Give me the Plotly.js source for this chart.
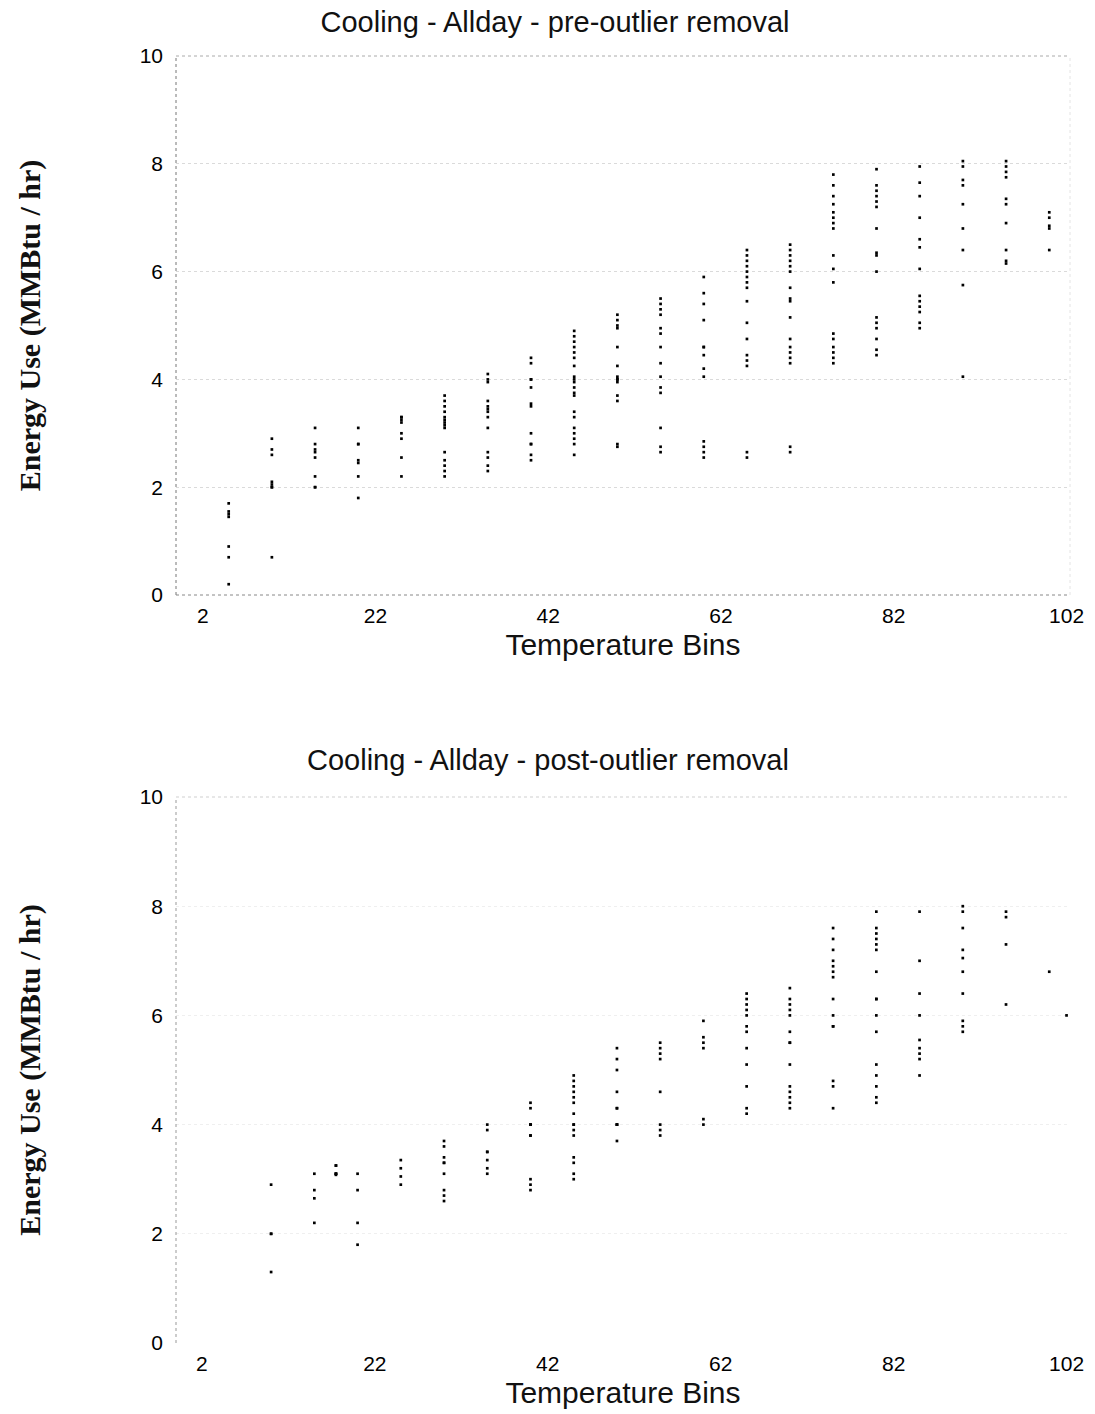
<!DOCTYPE html>
<html>
<head>
<meta charset="utf-8">
<script src="https://cdn.plot.ly/plotly-3.0.1.min.js"></script>
<style>html,body{margin:0;padding:0;background:#fff;}#chart{width:1095px;height:1414px;}</style>
</head>
<body>
<div id="chart"></div>
<script>
// ---------- DATA ----------
var tickLabels = [2, 22, 42, 62, 82, 102];
var yTicks = [0, 2, 4, 6, 8, 10];

// pre-outlier removal: temperature bins and energy values per bin
var preBins = [5, 10, 15, 20, 25, 30, 35, 40, 45, 50, 55, 60, 65, 70, 75, 80, 85, 90, 95, 100];
var preValues = [
  [1.7, 1.55, 1.5, 1.45, 0.9, 0.7, 0.2],
  [2.9, 2.7, 2.6, 2.1, 2.05, 2.0, 2.0, 0.7],
  [3.1, 2.8, 2.7, 2.65, 2.55, 2.2, 2.0, 2.0],
  [3.1, 2.8, 2.8, 2.5, 2.45, 2.2, 1.8],
  [3.3, 3.3, 3.25, 3.2, 3.0, 2.9, 2.55, 2.2],
  [3.7, 3.6, 3.5, 3.4, 3.3, 3.25, 3.2, 3.15, 3.1, 2.65, 2.5, 2.4, 2.3, 2.2],
  [4.1, 4.0, 3.95, 3.6, 3.5, 3.45, 3.4, 3.3, 3.1, 2.65, 2.55, 2.4, 2.3],
  [4.4, 4.3, 4.0, 4.0, 3.85, 3.55, 3.5, 3.0, 2.8, 2.8, 2.6, 2.5],
  [4.9, 4.8, 4.7, 4.6, 4.5, 4.4, 4.25, 4.05, 4.0, 3.95, 3.85, 3.75, 3.7, 3.4, 3.3, 3.1, 3.0, 2.9, 2.8, 2.6],
  [5.2, 5.1, 5.0, 4.95, 4.6, 4.25, 4.05, 4.0, 4.0, 3.95, 3.7, 3.6, 2.8, 2.75],
  [5.5, 5.4, 5.3, 5.2, 4.95, 4.85, 4.6, 4.3, 4.05, 3.85, 3.75, 3.1, 2.75, 2.65],
  [5.9, 5.6, 5.4, 5.1, 4.6, 4.6, 4.45, 4.2, 4.05, 2.85, 2.75, 2.65, 2.55],
  [6.4, 6.3, 6.2, 6.1, 6.0, 5.9, 5.8, 5.7, 5.45, 5.05, 4.75, 4.45, 4.35, 4.25, 2.65, 2.55],
  [6.5, 6.4, 6.3, 6.2, 6.1, 6.0, 5.7, 5.5, 5.45, 5.15, 4.75, 4.6, 4.5, 4.4, 4.3, 2.75, 2.65],
  [7.8, 7.6, 7.4, 7.25, 7.1, 7.0, 6.9, 6.8, 6.3, 6.05, 5.8, 4.85, 4.75, 4.6, 4.5, 4.4, 4.3],
  [7.9, 7.6, 7.5, 7.4, 7.3, 7.2, 6.8, 6.35, 6.3, 6.0, 5.15, 5.05, 4.95, 4.75, 4.55, 4.45],
  [7.95, 7.65, 7.4, 7.0, 6.6, 6.45, 6.05, 5.55, 5.45, 5.35, 5.25, 5.05, 4.95],
  [8.05, 7.95, 7.7, 7.6, 7.25, 6.8, 6.4, 5.75, 4.05],
  [8.05, 7.95, 7.85, 7.75, 7.35, 7.25, 6.9, 6.4, 6.2, 6.15],
  [7.1, 7.0, 6.85, 6.8, 6.4]
];

// post-outlier removal
var postBins = [10, 15, 17.5, 20, 25, 30, 35, 40, 45, 50, 55, 60, 65, 70, 75, 80, 85, 90, 95, 100, 102];
var postValues = [
  [2.9, 2.0, 2.0, 1.3],
  [3.1, 2.8, 2.65, 2.2],
  [3.25, 3.25, 3.1, 3.1, 3.1, 3.08],
  [3.1, 2.8, 2.2, 1.8],
  [3.35, 3.2, 3.05, 2.9],
  [3.7, 3.6, 3.4, 3.3, 3.3, 3.1, 2.8, 2.7, 2.6],
  [4.0, 3.9, 3.5, 3.5, 3.35, 3.2, 3.1],
  [4.4, 4.3, 4.0, 4.0, 4.0, 3.8, 3.8, 3.0, 2.9, 2.8],
  [4.9, 4.8, 4.7, 4.6, 4.5, 4.4, 4.2, 4.0, 4.0, 3.9, 3.8, 3.4, 3.3, 3.1, 3.0],
  [5.4, 5.2, 5.0, 4.6, 4.3, 4.3, 4.0, 4.0, 4.0, 3.7],
  [5.5, 5.4, 5.3, 5.2, 4.6, 4.0, 3.9, 3.8],
  [5.9, 5.6, 5.5, 5.4, 4.1, 4.0],
  [6.4, 6.3, 6.2, 6.1, 6.0, 5.8, 5.7, 5.4, 5.1, 4.7, 4.3, 4.2],
  [6.5, 6.3, 6.2, 6.1, 6.0, 5.7, 5.5, 5.5, 5.1, 4.7, 4.6, 4.5, 4.4, 4.3],
  [7.6, 7.4, 7.2, 7.0, 6.9, 6.8, 6.7, 6.3, 6.0, 5.8, 5.8, 4.8, 4.7, 4.3],
  [7.9, 7.6, 7.5, 7.4, 7.3, 7.2, 6.8, 6.3, 6.3, 6.0, 5.7, 5.1, 4.9, 4.7, 4.5, 4.4],
  [7.9, 7.0, 6.4, 6.0, 5.55, 5.4, 5.3, 5.2, 4.9],
  [8.0, 7.9, 7.6, 7.2, 7.05, 6.8, 6.4, 5.9, 5.8, 5.7],
  [7.9, 7.8, 7.3, 6.2],
  [6.8],
  [6.0]
];

// ---------- BUILD ----------
function flatten(bins, vals) {
  var xs = [], ys = [];
  for (var i = 0; i < bins.length; i++) {
    for (var j = 0; j < vals[i].length; j++) { xs.push(bins[i]); ys.push(vals[i][j]); }
  }
  return {x: xs, y: ys};
}
var pre = flatten(preBins, preValues);
var post = flatten(postBins, postValues);

var marker = {symbol: 'square', size: 2.7, color: '#000'};
var traces = [
  {type: 'scatter', mode: 'markers', x: pre.x, y: pre.y, xaxis: 'x', yaxis: 'y', marker: marker, hoverinfo: 'x+y', showlegend: false},
  {type: 'scatter', mode: 'markers', x: post.x, y: post.y, xaxis: 'x2', yaxis: 'y2', marker: marker, hoverinfo: 'x+y', showlegend: false}
];

var tickFont = {family: 'Liberation Sans, Arial, sans-serif', size: 21, color: '#000'};
var xTitleFont = {family: 'Liberation Sans, Arial, sans-serif', size: 30, color: '#111'};
var yTitleFont = {family: 'Liberation Serif, Times New Roman, serif', size: 30, color: '#111'};
var titleFont = {family: 'Liberation Sans, Arial, sans-serif', size: 29, color: '#111'};

function xAxis(anchor, range) {
  return {
    domain: [176/1095, 1070/1095], anchor: anchor, range: range,
    tickmode: 'array', tickvals: tickLabels, ticktext: tickLabels.map(String),
    showgrid: false, zeroline: false, showline: false, ticks: '',
    tickfont: tickFont, ticklabelstandoff: 6,
    title: {text: 'Temperature Bins', font: xTitleFont, standoff: 7}
  };
}
function yAxis(domain, anchor, gridColor) {
  return {
    domain: domain, anchor: anchor, range: [0, 10],
    tickmode: 'array', tickvals: yTicks, ticktext: yTicks.map(String),
    showgrid: true, gridcolor: gridColor, griddash: 'dot', gridwidth: 1,
    zeroline: false, showline: false, ticks: '',
    tickfont: tickFont, ticklabelstandoff: 12,
    title: {text: '<b>Energy Use (MMBtu / hr)</b>', font: yTitleFont, standoff: 90}
  };
}

var layout = {
  width: 1095, height: 1414,
  margin: {l: 0, r: 0, t: 0, b: 0},
  paper_bgcolor: '#fff', plot_bgcolor: '#fff',
  showlegend: false,
  title: {text: 'Cooling - Allday - pre-outlier removal', x: 555/1095, xanchor: 'center', y: 1 - 22/1414, yanchor: 'middle', font: titleFont},
  xaxis: xAxis('y', [-1.1, 102.4]),
  yaxis: yAxis([1 - 595/1414, 1 - 56/1414], 'x', '#dadada'),
  xaxis2: xAxis('y2', [-1.0, 102.4]),
  yaxis2: yAxis([1 - 1343/1414, 1 - 797/1414], 'x2', '#efefef'),
  annotations: [
    {text: 'Cooling - Allday - post-outlier removal', xref: 'paper', yref: 'paper', x: 548/1095, y: 1 - 760/1414, xanchor: 'center', yanchor: 'middle', showarrow: false, font: titleFont}
  ],
  shapes: [
    // top plot frame (faded dotted, as in the scan)
    {type: 'line', xref: 'x domain', yref: 'y domain', x0: 0, x1: 0, y0: 0, y1: 1, line: {color: '#777', width: 1, dash: 'dot'}},
    {type: 'line', xref: 'x domain', yref: 'y domain', x0: 0, x1: 1, y0: 0, y1: 0, line: {color: '#888', width: 1, dash: 'dot'}},
    {type: 'line', xref: 'x domain', yref: 'y domain', x0: 0, x1: 1, y0: 1, y1: 1, line: {color: '#aaa', width: 1, dash: 'dot'}},
    {type: 'line', xref: 'x domain', yref: 'y domain', x0: 1, x1: 1, y0: 0, y1: 1, line: {color: '#e4e4e4', width: 1, dash: 'dot'}},
    // bottom plot frame
    {type: 'line', xref: 'x2 domain', yref: 'y2 domain', x0: 0, x1: 0, y0: 0, y1: 1, line: {color: '#999', width: 1, dash: 'dot'}},
    {type: 'line', xref: 'x2 domain', yref: 'y2 domain', x0: 0, x1: 1, y0: 1, y1: 1, line: {color: '#cfcfcf', width: 1, dash: 'dot'}}
  ]
};

Plotly.newPlot('chart', traces, layout, {displayModeBar: false, staticPlot: true});
</script>
</body>
</html>
